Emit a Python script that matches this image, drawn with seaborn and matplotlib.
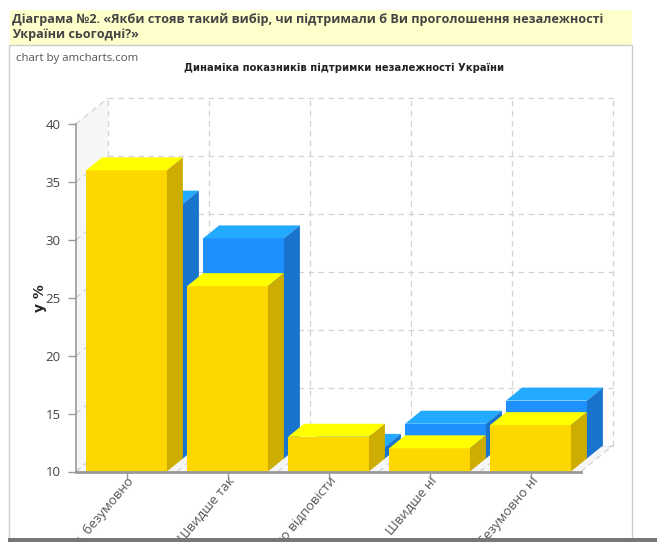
import matplotlib
matplotlib.use("Agg")
import matplotlib.pyplot as plt
from matplotlib.patches import Polygon, Rectangle
import seaborn as sns
import pandas as pd

categories = ["Так, безумовно", "Швидше так", "Важко відповісти", "Швидше ні", "Безумовно ні"]
series_back = [32, 29, 11, 13, 15]
series_front = [36, 26, 13, 12, 14]
y_ticks = [10, 15, 20, 25, 30, 35, 40]
heading = "Діаграма №2. «Якби стояв такий вибір, чи підтримали б Ви проголошення незалежності\nУкраїни сьогодні?»"
chart_title = "Динаміка показників підтримки незалежності України"
credit = "chart by amcharts.com"
y_label = "у %"

W, H = 657, 542
sns.set_theme(style="white")
plt.rcParams["font.family"] = ["DejaVu Sans"]
fig = plt.figure(figsize=(W / 100, H / 100), dpi=100, facecolor="white")

def frac_rect(x0, y0, x1, y1):
    return [x0 / W, 1 - y1 / H, (x1 - x0) / W, (y1 - y0) / H]

# page panels
fig.add_artist(Rectangle((10 / W, 1 - 45 / H), 622 / W, 35 / H, transform=fig.transFigure,
                         fc="#FFFFCC", ec="none", zorder=-3))
fig.add_artist(Rectangle((9 / W, -0.01), 623 / W, 1 - 45 / H + 0.01, transform=fig.transFigure,
                         fc="white", ec="#CCCCCC", lw=1, zorder=-2))
fig.add_artist(Rectangle((8 / W, 0), 1 - 8 / W, 4 / H, transform=fig.transFigure,
                         fc="#777777", ec="none", zorder=6))

ax = fig.add_axes(frac_rect(76, 124, 581, 471.5))
ax.patch.set_alpha(0)
df = pd.DataFrame({"cat": categories, "back": series_back, "front": series_front})

# depth of the pseudo-3D box, in data units
px_x = 101.0
px_y = 347.5 / 30
DX, DY = 32 / px_x, 26 / px_y
Y0 = y_ticks[0]
X0, X1 = -0.5, len(categories) - 0.5
Y1 = y_ticks[-1]
BAR_W = 0.8

sns.barplot(data=df, x="cat", y="back", order=categories, color="#1E90FF", saturation=1,
            width=BAR_W, ax=ax, zorder=3, linewidth=0)
n_back = len(ax.patches)
sns.barplot(data=df, x="cat", y="front", order=categories, color="#FFD700", saturation=1,
            width=BAR_W, ax=ax, zorder=5, linewidth=0)
ax.set_xlim(X0, X1)
ax.set_ylim(Y0, Y1)

def poly(pts, **kw):
    ax.add_patch(Polygon(pts, clip_on=False, **kw))

# walls
wall = "#F6F6F6"
poly([(X0, Y0), (X0 + DX, Y0 + DY), (X0 + DX, Y1 + DY), (X0, Y1)], fc=wall, ec="none", zorder=0)
poly([(X0, Y0), (X0 + DX, Y0 + DY), (X1 + DX, Y0 + DY), (X1, Y0)], fc=wall, ec="none", zorder=0)

grid = dict(color="#D2D2D2", lw=0.9, ls=(0, (4.5, 3.5)), clip_on=False, zorder=1)
for t in y_ticks:
    ax.plot([X0 + DX, X1 + DX], [t + DY, t + DY], **grid)
    ax.plot([X0, X0 + DX], [t, t + DY], **grid)
for i in range(len(categories) + 1):
    xv = X0 + i
    ax.plot([xv + DX, xv + DX], [Y0 + DY, Y1 + DY], **grid)
    ax.plot([xv, xv + DX], [Y0, Y0 + DY], **grid)

def box(p, val, dx, dy, top, side, z):
    """Re-seat a seaborn bar on the floor at depth (dx, dy) and add its top and side."""
    x = p.get_x() + dx
    w = p.get_width()
    base = Y0 + dy
    p.set_x(x)
    p.set_y(base)
    p.set_height(val - Y0)
    p.set_clip_on(False)
    p.set_zorder(z)
    d_x, d_y = DX / 2, DY / 2
    yt = base + val - Y0
    poly([(x, yt), (x + d_x, yt + d_y), (x + w + d_x, yt + d_y), (x + w, yt)], fc=top, ec="none", zorder=z)
    poly([(x + w, base), (x + w + d_x, base + d_y), (x + w + d_x, yt + d_y), (x + w, yt)], fc=side, ec="none", zorder=z)

for p, v in zip(ax.patches[:n_back], series_back):
    box(p, v, DX / 2, DY / 2, "#22AAFF", "#1874CD", 3)
for p, v in zip(ax.patches[n_back:len(categories) * 2], series_front):
    box(p, v, 0, 0, "#FFFF00", "#CDAD00", 5)

# axes
for s in ("top", "right"):
    ax.spines[s].set_visible(False)
ax.spines["left"].set_color("#999999")
ax.spines["left"].set_linewidth(1.2)
ax.spines["bottom"].set_color("#999999")
ax.spines["bottom"].set_linewidth(2)
ax.spines["bottom"].set_zorder(6)
ax.set_yticks(y_ticks)
ax.set_yticklabels([str(t) for t in y_ticks], fontsize=9.5, color="#444444", fontfamily="Open Sans")
ax.set_xticks(range(len(categories)))
ax.set_xticklabels(categories, rotation=50, ha="right", va="top", rotation_mode="anchor",
                   fontsize=9.5, color="#555555", fontfamily="Open Sans")
ax.tick_params(axis="y", length=6, width=1, color="#999999", pad=5, left=True)
ax.tick_params(axis="x", length=5, width=1, color="#999999", pad=-3, bottom=True)
ax.set_xlabel("")
ax.set_ylabel(y_label, fontsize=10, fontweight="bold", color="#222222", labelpad=-1)

# page text
fig.text(12 / W, 1 - 27 / H, heading, fontsize=9.1, fontweight="bold", color="#444444",
         family="Open Sans", va="center", ha="left", linespacing=1.2)
fig.text(16 / W, 1 - 58 / H, credit, fontsize=8.2, color="#555555", family="Open Sans", va="center")
fig.text(344 / W, 1 - 68 / H, chart_title, fontsize=7.2, fontweight="bold", color="#222222",
         va="center", ha="center")

fig.savefig("out.png", dpi=100)
